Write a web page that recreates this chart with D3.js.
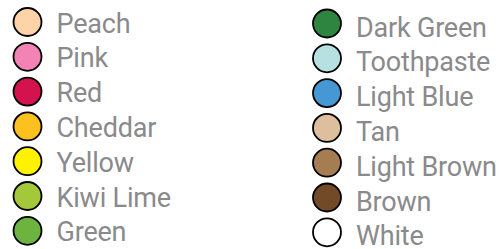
<!DOCTYPE html>
<html>
<head>
<meta charset="utf-8">
<script src="https://cdn.jsdelivr.net/npm/d3@7"></script>
<style>
  html, body { margin: 0; padding: 0; background: #fff; }
  svg { display: block; }
</style>
</head>
<body>
<svg id="chart" width="499" height="249"></svg>
<script>
// legend entries, two columns of seven
const names = [
  'Peach', 'Pink', 'Red', 'Cheddar', 'Yellow', 'Kiwi Lime', 'Green',
  'Dark Green', 'Toothpaste', 'Light Blue', 'Tan', 'Light Brown', 'Brown', 'White'
]
const swatches = [
  '#fdd3a8', '#f283b4', '#d3124e', '#fcc11f', '#fff200', '#a3c93a', '#6db33f',
  '#2e8540', '#b7e1e0', '#4598d3', '#ddbf9d', '#a67c52', '#734a28', '#ffffff'
]

const perCol = 7

const svg = d3.select('#chart')

const color = d3.scaleOrdinal().domain(names).range(swatches)

// circle centre x of each column
const colX = d3.scaleOrdinal().domain([0, 1]).range([27.5, 327])
// the right column sits a little lower, its text even more so
const colY = d3.scaleOrdinal().domain([0, 1]).range([0, 1.5])
const textY = d3.scaleOrdinal().domain([0, 1]).range([10.5, 13])

const rowY = d3.scaleLinear().domain([0, perCol - 1]).range([22, 230.8])

const items = svg.selectAll('g.item')
  .data(names)
  .join('g')
  .attr('class', 'item')
  .attr('transform', (d, i) => {
    const col = Math.floor(i / perCol)
    const row = i % perCol
    return `translate(${colX(col)},${rowY(row) + colY(col)})`
  })

items.append('circle')
  .attr('r', 14)
  .attr('fill', d => color(d))
  .attr('stroke', '#000')
  .attr('stroke-width', 1.8)

items.append('text')
  .attr('x', 29)
  .attr('y', (d, i) => textY(Math.floor(i / perCol)))
  .attr('font-family', 'Roboto, sans-serif')
  .attr('font-size', 27)
  .attr('letter-spacing', -0.2)
  .attr('fill', '#8a8a8c')
  .text(d => d)
</script>
</body>
</html>
